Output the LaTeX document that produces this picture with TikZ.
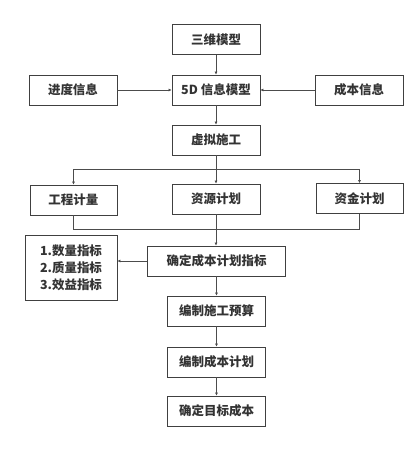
\documentclass[tikz,border=0pt]{standalone}
\usepackage{fontspec}
\newfontfamily\cjk{Noto Sans CJK SC}
\usetikzlibrary{arrows.meta}
\begin{document}
\begin{tikzpicture}[x=1pt,y=-1pt,
  box/.style={draw=black!75,line width=0.8pt,minimum width=88pt,minimum height=30pt,inner sep=0pt,font=\cjk\bfseries\fontsize{12.5}{15}\selectfont,text=black!80},
  conn/.style={draw=black!70,line width=0.8pt},
  arr/.style={conn,-{Latex[length=3pt,width=3pt]}}]
\useasboundingbox (0,0) rectangle (415,453);
\node[box] (m3d) at (216,39.5) {三维模型};
\node[box] (jd) at (73,90) {进度信息};
\node[box] (m5d) at (216,90) {5D 信息模型};
\node[box] (cb) at (359,90) {成本信息};
\node[box] (xn) at (216,140) {虚拟施工};
\node[box,minimum width=87pt] (gc) at (73.5,200) {工程计量};
\node[box] (zy) at (216,199) {资源计划};
\node[box,minimum width=87pt] (zj) at (359.5,198.5) {资金计划};
\node[box,minimum width=138pt] (qd) at (216.5,261) {确定成本计划指标};
\node[box,minimum width=92pt,minimum height=65pt,align=left] (zb) at (71,267.5) {1.数量指标\\[2pt]2.质量指标\\[2pt]3.效益指标};
\node[box,minimum width=98pt] (bz) at (216.5,311) {编制施工预算};
\node[box,minimum width=98pt] (bc) at (216.5,362) {编制成本计划};
\node[box,minimum width=98pt] (mb) at (216.5,411) {确定目标成本};
\coordinate (br) at (216,169);
\coordinate (mg) at (216,229);
\draw[arr] (m3d) -- (m5d);
\draw[arr] (jd) -- (m5d);
\draw[arr] (cb) -- (m5d);
\draw[arr] (m5d) -- (xn);
\draw[conn] (xn.south) -- (br);
\draw[arr] (br) -- (zy.north);
\draw[arr] (br) -| (gc.north);
\draw[arr] (br) -| (zj.north);
\draw[conn] (gc.south) |- (mg);
\draw[conn] (zj.south) |- (mg);
\draw[conn] (zy.south) -- (mg);
\draw[arr] (mg) -- (mg |- qd.north);
\draw[arr] (qd.west) -- (qd.west -| zb.east);
\draw[arr] (qd.south -| bz) -- (bz.north);
\draw[arr] (bz) -- (bc);
\draw[arr] (bc) -- (mb);
\end{tikzpicture}
\end{document}
